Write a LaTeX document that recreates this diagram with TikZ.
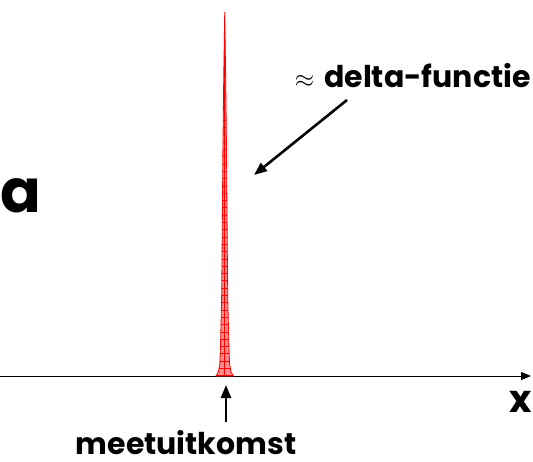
\documentclass[tikz,border=0pt]{standalone}
\usepackage{fontspec}
\setmainfont{Poppins}
\usetikzlibrary{arrows.meta,positioning}

\begin{document}
\begin{tikzpicture}[x=1pt, y=-1pt,
    lbl/.style={font=\bfseries\fontsize{30}{34}\selectfont, inner sep=0pt},
    arrow/.style={-{Triangle[length=13pt, width=10pt]}, line width=2.6pt},
    axis/.style={-{Triangle[length=10pt, width=8pt]}, line width=1pt}
]
    \useasboundingbox (0,0) rectangle (533,461);

    % axis
    \coordinate (o) at (0,376);
    \coordinate (xend) at (531,376);
    \draw [axis] (o) -- (xend);
    \node (xlbl) [lbl, font=\bfseries\fontsize{38}{40}\selectfont, anchor=base east] at (532,412) {x};

    % spike
    \def\spike{(216,376) -- (218.4,372) -- (219.8,364) -- (220.5,346) -- (221.6,300) -- (222.1,250) -- (222.9,150) -- (223.7,80) -- (224.7,12)
        -- (225.7,80) -- (226.5,150) -- (227.3,250) -- (227.8,300) -- (228.9,346) -- (229.6,364) -- (231,372) -- (233.4,376) -- cycle}
    \fill [red!45] \spike;
    \begin{scope}
        \clip \spike;
        \foreach \y in {18,25.3,...,376}
            \draw [red, line width=0.7pt] (210,\y) -- (240,\y);
        \draw [red, line width=0.7pt] (224.7,12) -- (224.7,376);
    \end{scope}
    \draw [red, line width=0.8pt] \spike;
    \draw [line width=1pt] (o) -- (216,376);

    % labels
    \node (big) [lbl, font=\bfseries\fontsize{60}{64}\selectfont, anchor=base west] at (0,212) {a};
    \node (delta) [lbl, anchor=base east] at (531,87) {$\approx$\hspace{10pt}delta-functie};
    \node (meet) [lbl, anchor=base] at (186,454) {meetuitkomst};

    \coordinate (dfrom) at (347,100);
    \coordinate (dto) at (254,175);
    \draw [arrow] (dfrom) -- (dto);
    \coordinate (mfrom) at (226,422);
    \coordinate (mto) at (226,385);
    \draw [arrow] (mfrom) -- (mto);
\end{tikzpicture}
\end{document}
